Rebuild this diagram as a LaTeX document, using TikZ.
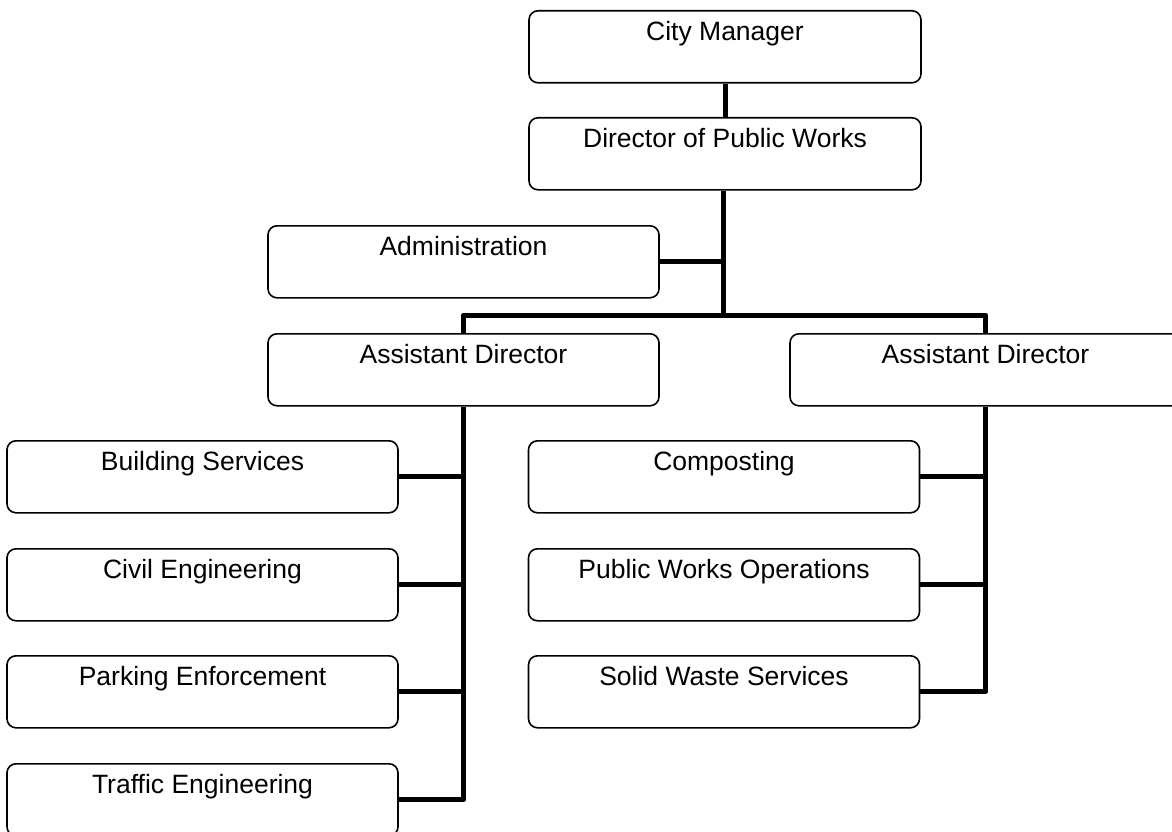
\documentclass[tikz,border=0pt]{standalone}
\usepackage{fontspec}
\setmainfont{Liberation Sans}
\begin{document}
\begin{tikzpicture}[x=1pt,y=-1pt,
  orgbox/.style={draw=black, line width=1.6pt, rounded corners=9pt, anchor=north,
    minimum width=391pt, inner sep=0pt, text height=30pt, text depth=42pt,
    font=\fontsize{26.5}{30}\selectfont},
  link/.style={draw=black, line width=5pt, line join=round}]
\useasboundingbox (0,0) rectangle (1172,832);
% boxes
\node[orgbox, minimum width=392pt] (cm)  at (725,10)   {City Manager};
\node[orgbox, minimum width=392pt] (dpw) at (725,117)  {Director of Public Works};
\node[orgbox] (adm) at (463.5,225) {Administration};
\node[orgbox] (adl) at (463.5,333) {Assistant Director};
\node[orgbox] (adr) at (985.5,333) {Assistant Director};
\node[orgbox] (bs)  at (202.5,440) {Building Services};
\node[orgbox] (ce)  at (202.5,548) {Civil Engineering};
\node[orgbox] (pe)  at (202.5,655) {Parking Enforcement};
\node[orgbox] (te)  at (202.5,763) {Traffic Engineering};
\node[orgbox] (co)  at (724,440)   {Composting};
\node[orgbox] (pwo) at (724,548)   {Public Works Operations};
\node[orgbox] (sws) at (724,655)   {Solid Waste Services};
% connectors
\coordinate (busy) at (0,315);
\coordinate (trunk) at ([xshift=-2pt]dpw.south);
\draw[link] (cm.south) -- (dpw.north);
\draw[link] (trunk) -- (trunk |- busy);
\draw[link] (adm.east) -- (trunk |- adm.east);
\draw[link] (adl.north) -- (adl.north |- busy) -- (adr.north |- busy) -- (adr.north);
\draw[link] (adl.south) -- (adl.south |- te.east) -- (te.east);
\draw[link] (bs.east) -- (adl.south |- bs.east);
\draw[link] (ce.east) -- (adl.south |- ce.east);
\draw[link] (pe.east) -- (adl.south |- pe.east);
\draw[link] (adr.south) -- (adr.south |- sws.east) -- (sws.east);
\draw[link] (co.east) -- (adr.south |- co.east);
\draw[link] (pwo.east) -- (adr.south |- pwo.east);
\end{tikzpicture}
\end{document}
